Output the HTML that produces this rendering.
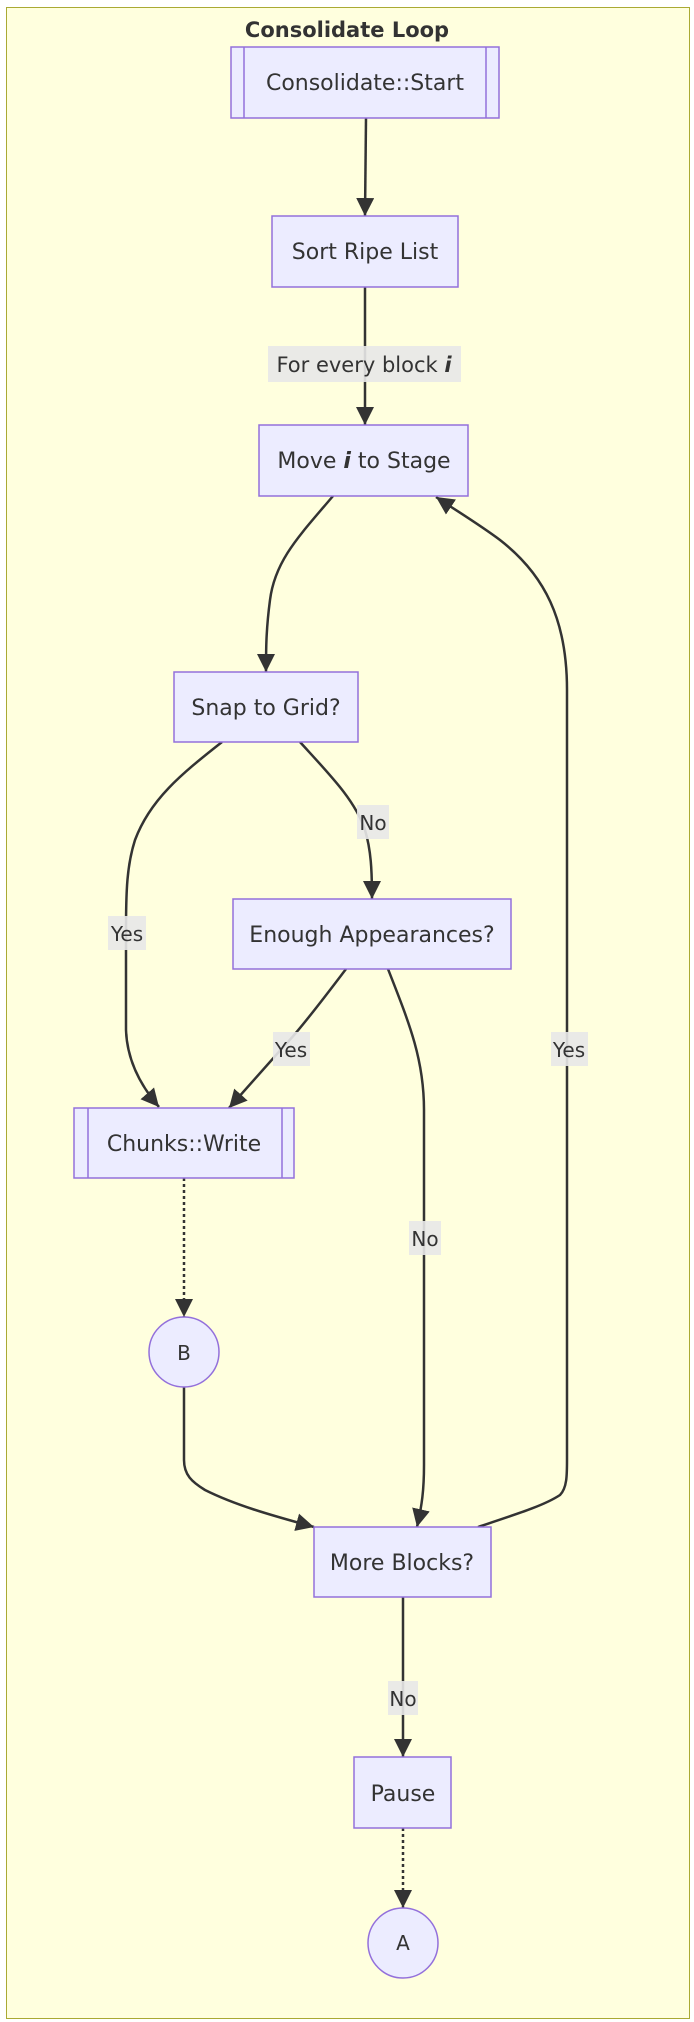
<!DOCTYPE html>
<html><head><meta charset="utf-8"><style>
html,body{margin:0;padding:0;background:#fff;}
svg{display:block;}
text{font-family:"DejaVu Sans","Liberation Sans",sans-serif;fill:#333;}
</style></head><body>
<svg width="694" height="2022" viewBox="0 0 694 2022" xmlns="http://www.w3.org/2000/svg">
<defs>
<marker id="a" viewBox="0 0 10 10" refX="10" refY="5" markerWidth="18" markerHeight="18" markerUnits="userSpaceOnUse" orient="auto">
<path d="M0,0 L10,5 L0,10 z" fill="#333"/></marker>
</defs>
<rect x="6.5" y="7.5" width="683" height="2011" fill="#ffffde" stroke="#aaaa33" stroke-width="1"/>
<text x="347" y="37" font-size="21" font-weight="bold" text-anchor="middle">Consolidate Loop</text>

<g fill="none" stroke="#333" stroke-width="2.5">
<path d="M366,118 L365,216" marker-end="url(#a)"/>
<path d="M365,287 L365,425" marker-end="url(#a)"/>
<path d="M333,496 C300,535 275,560 270,600 C266,630 266,650 266,672" marker-end="url(#a)"/>
<path d="M478,1527 C520,1513 545,1505 560,1495 C567,1488 567,1475 567,1460 L567,690 C567,620 545,575 500,540 C480,525 460,513 436,497" marker-end="url(#a)"/>
<path d="M222,742 C180,775 150,800 135,840 C127,865 126,890 126,930 L126,1030 C127,1060 140,1085 159,1107" marker-end="url(#a)"/>
<path d="M300,742 C330,775 355,800 365,830 C371,850 372,870 372,899" marker-end="url(#a)"/>
<path d="M346,969 C330,990 300,1030 285,1045 L229,1108" marker-end="url(#a)"/>
<path d="M388,969 C410,1025 424,1060 424,1110 L424,1465 C424,1490 422,1505 417,1527" marker-end="url(#a)"/>
<path d="M184,1178 L184,1317" stroke-dasharray="3,3" marker-end="url(#a)"/>
<path d="M184,1387 L184,1460 C184,1475 192,1482 205,1490 C235,1505 270,1515 314,1527" marker-end="url(#a)"/>
<path d="M403,1597 L403,1757" marker-end="url(#a)"/>
<path d="M403,1828 L403,1908" stroke-dasharray="3,3" marker-end="url(#a)"/>
</g>

<g fill="#ececff" stroke="#9370db" stroke-width="1.5">
<rect x="231" y="47" width="268" height="71"/>
<line x1="244" y1="47" x2="244" y2="118"/><line x1="486" y1="47" x2="486" y2="118"/>
<rect x="272" y="216" width="186" height="71"/>
<rect x="259" y="425" width="209" height="71"/>
<rect x="174" y="672" width="184" height="70"/>
<rect x="233" y="899" width="278" height="70"/>
<rect x="74" y="1108" width="220" height="70"/>
<line x1="88" y1="1108" x2="88" y2="1178"/><line x1="282" y1="1108" x2="282" y2="1178"/>
<circle cx="184" cy="1352" r="35"/>
<rect x="314" y="1527" width="177" height="70"/>
<rect x="354" y="1757" width="97" height="71"/>
<circle cx="403" cy="1943" r="35"/>
</g>

<g fill="#e8e8e8" opacity="0.9">
<rect x="268" y="346" width="193" height="36"/>
<rect x="108" y="916" width="38" height="34"/>
<rect x="357" y="805" width="32" height="34"/>
<rect x="273" y="1032" width="37" height="34"/>
<rect x="551" y="1032" width="37" height="34"/>
<rect x="409" y="1221" width="32" height="34"/>
<rect x="388" y="1681" width="30" height="34"/>
</g>

<g font-size="22" text-anchor="middle">
<text x="365" y="90">Consolidate::Start</text>
<text x="365" y="259">Sort Ripe List</text>
<text x="364" y="372" font-size="21">For every block <tspan font-weight="bold" font-style="italic">i</tspan></text>
<text x="364" y="468">Move <tspan font-weight="bold" font-style="italic">i</tspan> to Stage</text>
<text x="266" y="715">Snap to Grid?</text>
<text x="372" y="942">Enough Appearances?</text>
<text x="184" y="1151">Chunks::Write</text>
<text x="184" y="1360" font-size="20">B</text>
<text x="402" y="1570">More Blocks?</text>
<text x="403" y="1801">Pause</text>
<text x="403" y="1950" font-size="20">A</text>
<text x="127" y="941" font-size="20">Yes</text>
<text x="373" y="830" font-size="20">No</text>
<text x="291" y="1057" font-size="20">Yes</text>
<text x="569" y="1057" font-size="20">Yes</text>
<text x="425" y="1246" font-size="20">No</text>
<text x="403" y="1706" font-size="20">No</text>
</g>
</svg>
</body></html>
